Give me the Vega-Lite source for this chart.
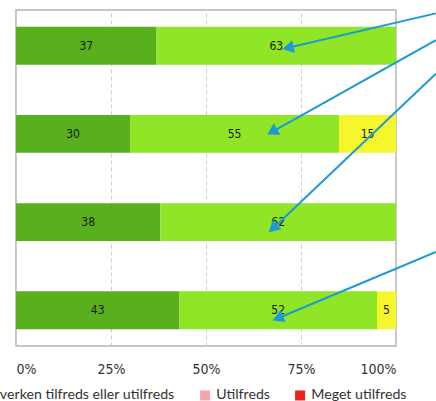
{
  "$schema": "https://vega.github.io/schema/vega-lite/v6.json",
  "autosize": {"type": "none"},
  "width": 380,
  "height": 336,
  "padding": {"left": 16, "top": 10, "right": 40, "bottom": 55},
  "background": "white",
  "config": {
    "view": {"stroke": "#b4b4b4", "strokeWidth": 1.5},
    "legend": {
      "orient": "none",
      "legendX": -262,
      "legendY": 378,
      "direction": "horizontal",
      "columnPadding": 23,
      "symbolType": "square",
      "symbolSize": 100,
      "symbolStrokeWidth": 0,
      "labelFont": "Lato",
      "labelFontSize": 14.2,
      "labelColor": "#333333",
      "labelLimit": 400,
      "labelOffset": 4
    }
  },
  "layer": [
    {
      "data": {
        "values": [
          {"row": "1", "level": "Meget tilfreds", "k": 1, "value": 37},
          {"row": "1", "level": "Tilfreds", "k": 2, "value": 63},
          {"row": "2", "level": "Meget tilfreds", "k": 1, "value": 30},
          {"row": "2", "level": "Tilfreds", "k": 2, "value": 55},
          {"row": "2", "level": "Hverken tilfreds eller utilfreds", "k": 3, "value": 15},
          {"row": "3", "level": "Meget tilfreds", "k": 1, "value": 38},
          {"row": "3", "level": "Tilfreds", "k": 2, "value": 62},
          {"row": "4", "level": "Meget tilfreds", "k": 1, "value": 43},
          {"row": "4", "level": "Tilfreds", "k": 2, "value": 52},
          {"row": "4", "level": "Hverken tilfreds eller utilfreds", "k": 3, "value": 5}
        ]
      },
      "encoding": {
        "y": {
          "field": "row",
          "type": "nominal",
          "axis": null,
          "scale": {"paddingInner": 0.57, "paddingOuter": 0.19}
        },
        "order": {"field": "k", "type": "quantitative"}
      },
      "layer": [
        {
          "mark": {"type": "bar"},
          "encoding": {
            "x": {
              "field": "value",
              "type": "quantitative",
              "stack": "zero",
              "scale": {"domain": [0, 100], "nice": false},
              "axis": {
                "values": [0, 25, 50, 75, 100],
                "labelExpr": "datum.value + '%'",
                "title": null,
                "grid": true,
                "gridDash": [4, 3],
                "gridColor": "#cfcfcf",
                "ticks": false,
                "domain": false,
                "labelFlush": true,
                "labelPadding": 16,
                "labelFont": "DejaVu Sans Condensed, sans-serif",
                "labelFontSize": 14,
                "labelColor": "#333333"
              }
            },
            "color": {
              "field": "level",
              "type": "nominal",
              "title": null,
              "scale": {
                "domain": ["Meget tilfreds", "Tilfreds", "Hverken tilfreds eller utilfreds", "Utilfreds", "Meget utilfreds"],
                "range": ["#58b01d", "#8fe526", "#f6f62c", "#f3a6aa", "#e8231b"]
              }
            }
          }
        },
        {
          "mark": {
            "type": "text",
            "font": "DejaVu Sans Condensed, sans-serif",
            "fontSize": 12,
            "color": "#1a1a1a"
          },
          "encoding": {
            "x": {
              "field": "value",
              "type": "quantitative",
              "stack": "zero",
              "bandPosition": 0.5
            },
            "text": {"field": "value", "type": "quantitative"}
          }
        }
      ]
    },
    {
      "data": {
        "values": [
          {"x1": 110.5, "y1": 0.04, "x2": 71.6, "y2": 0.45, "dir": 257},
          {"x1": 110.5, "y1": 0.36, "x2": 67.4, "y2": 1.45, "dir": 241},
          {"x1": 110.5, "y1": 0.76, "x2": 67.6, "y2": 2.6, "dir": 227},
          {"x1": 110.5, "y1": 2.88, "x2": 68.9, "y2": 3.67, "dir": 247}
        ]
      },
      "encoding": {},
      "layer": [
        {
          "mark": {"type": "rule", "color": "#1c9ad6", "strokeWidth": 2, "clip": false},
          "encoding": {
            "x": {"field": "x1", "type": "quantitative", "scale": {"domain": [0, 100], "nice": false}},
            "x2": {"field": "x2"},
            "y": {"field": "y1", "type": "quantitative", "axis": null, "scale": {"domain": [0, 4], "reverse": true, "nice": false, "zero": false}},
            "y2": {"field": "y2"}
          }
        },
        {
          "mark": {"type": "point", "shape": "triangle-up", "filled": true, "opacity": 1, "color": "#1c9ad6", "size": 170, "clip": false},
          "encoding": {
            "x": {"field": "x2", "type": "quantitative", "scale": {"domain": [0, 100], "nice": false}},
            "y": {"field": "y2", "type": "quantitative", "axis": null, "scale": {"domain": [0, 4], "reverse": true, "nice": false, "zero": false}},
            "angle": {"field": "dir", "type": "quantitative", "scale": null}
          }
        }
      ]
    }
  ],
  "resolve": {"scale": {"y": "independent"}}
}
